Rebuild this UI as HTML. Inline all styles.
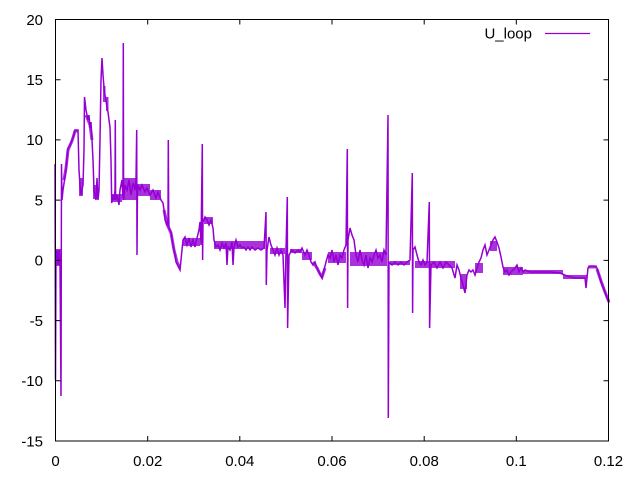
<!DOCTYPE html>
<html>
<head>
<meta charset="utf-8">
<style>
html,body{margin:0;padding:0;background:#fff;}
svg{display:block;}
text{font-family:"Liberation Sans",sans-serif;font-size:15px;fill:#000;}
</style>
</head>
<body>
<svg width="640" height="480" viewBox="0 0 640 480" xmlns="http://www.w3.org/2000/svg">
<rect x="0" y="0" width="640" height="480" fill="#fff"/>
<!-- dense noisy blocks -->
<g fill="#9400d3" opacity="0.8">
<rect x="55.5" y="249" width="6.5" height="17"/>
<rect x="79" y="178" width="4" height="18"/>
<rect x="93" y="185" width="5" height="14"/>
<rect x="103" y="86" width="2.5" height="16"/>
<rect x="106" y="97" width="2.5" height="14"/>
<rect x="112" y="194" width="10" height="8"/>
<rect x="124" y="178" width="13" height="22"/>
<rect x="137" y="184" width="13" height="12"/>
<rect x="150" y="190" width="11" height="10"/>
<rect x="183" y="238" width="17" height="8"/>
<rect x="204" y="217" width="9" height="7"/>
<rect x="214" y="241" width="51" height="8"/>
<rect x="270" y="248" width="15" height="6"/>
<rect x="290" y="249" width="12" height="4"/>
<rect x="302" y="252" width="10" height="8"/>
<rect x="328" y="252" width="18" height="11"/>
<rect x="350" y="252" width="37" height="14"/>
<rect x="390" y="261" width="20" height="4"/>
<rect x="415" y="261" width="40" height="7"/>
<rect x="460" y="274" width="7" height="15"/>
<rect x="475" y="263" width="8" height="10"/>
<rect x="490" y="241" width="7" height="10"/>
<rect x="503" y="267" width="20" height="8"/>
<rect x="523" y="270" width="40" height="4"/>
<rect x="563" y="275" width="24" height="4"/>
<rect x="588" y="265.5" width="9" height="3"/>
</g>
<!-- noisy bands as thicker strokes along trends -->
<g fill="none" stroke="#9400d3" stroke-width="3" opacity="0.8">
<polyline points="64,180 66,168 68,150 72,141 75,131 78,131"/>
<polyline points="86,115 88,120 90,125 92,140"/>
<polyline points="164,210 167,224 171,233 174,250 177,262 180,268"/>
<polyline points="313,262 317,268 320,274 322,277 325,268"/>
<polyline points="597,269 601,281 605,292 609,302"/>
</g>
<!-- data line -->
<polyline fill="none" stroke="#9400d3" stroke-width="1.5" stroke-linejoin="miter" points="
55,164 55.5,380 56,255 57,250 58,265 59,250 60,262 61,396 61.5,164 62,200 63,190 65,177 66,170 68,148 70,145 72,140 74,135 75,130 78,130 79,170 80,185 81,195 83,185 84,150 84.5,97 86,110 88,120 89,115 90,128 91,122 92,140 93,160 94,190 96,200 97,178 98,200 99,190 100,140 101,80 102,58 103,75 104,87 105,95 106,100 107,108 108,112 109,120 110,127 111,160 111.7,203 113,195 114,200 115,190 115.3,120 115.6,200 117,195 119,205 120,190 122,180 123,200 123.3,43 123.6,200 125,185 127,190 129,180 131,195 133,183 135,190 136,180 136.7,130 137,255 137.5,185 140,190 142,185 145,192 147,188 150,195 153,190 156,198 158,192 161,200 163,203 164,210 165,220 167,225 168,220 168.3,140 168.7,215 169,228 171,232 173,245 175,255 176,262 178,266 180,270 181,260 183,240 185,237 187,245 189,238 191,247 193,240 195,247 197,238 199,230 200,222 201,245 202.3,144 202.6,260 203,222 205,217 207,220 209,225 211,220 213,228 214,240 216,247 218,245 220,250 222,243 224,248 226,243 227,265 228,247 230,250 232,242 233,265 234,248 236,240 238,247 240,245 242,248 244,247 246,250 248,247 250,250 252,247 255,250 258,248 261,250 264,248 266,212 266.3,285 267,250 269,237 271,245 273,250 275,255 277,248 279,255 281,250 283,255 285,308 286,250 287.3,197 287.6,328 289,255 292,250 295,253 298,250 300,252 302,248 305,255 307,250 309,255 311,262 313,265 315,262 317,268 319,272 322,278 324,270 326,262 328,255 330,258 332,250 334,262 336,255 338,265 340,255 342,258 344,250 346,245 347.3,149 347.6,308 348,240 350,228 352,235 354,240 356,255 358,262 360,250 362,260 364,265 366,255 368,268 370,258 372,262 374,255 376,250 378,258 380,255 382,262 384,250 386,255 388,115 388.3,418 389,262 392,265 395,262 398,265 401,262 404,265 407,262 410,260 412.3,173 412.6,313 413,250 415,247 417,255 419,262 421,265 423,260 425,265 427,262 429.3,202 429.6,328 431,265 434,262 437,268 440,262 443,268 446,262 449,265 452,268 455,278 457,265 459,270 461,278 463,285 465,293 467,275 469,270 471,272 473,270 475,275 477,268 479,262 481,258 483,250 485,245 487,255 489,250 491,245 493,240 495,237 497,242 499,248 501,257 503,267 505,272 507,270 509,275 511,272 513,270 515,268 517,265 519,272 521,268 523,272 525,270 530,272 540,272 550,272 560,273 567,276 575,278 585,278 586,288 588,268 590,266 595,266 597,268 599,275 601,282 603,287 605,292 607,298 609,303"/>
<!-- border -->
<rect x="55.5" y="19.5" width="553" height="421.5" fill="none" stroke="#000" stroke-width="1"/>
<!-- ticks -->
<g stroke="#000" stroke-width="1">
<path d="M147.7,441v-5M239.8,441v-5M332,441v-5M424.2,441v-5M516.3,441v-5"/>
<path d="M147.7,19.5v5M239.8,19.5v5M332,19.5v5M424.2,19.5v5M516.3,19.5v5"/>
<path d="M55.5,79.7h5M55.5,139.9h5M55.5,200.1h5M55.5,260.4h5M55.5,320.6h5M55.5,380.8h5"/>
<path d="M608.5,79.7h-5M608.5,139.9h-5M608.5,200.1h-5M608.5,260.4h-5M608.5,320.6h-5M608.5,380.8h-5"/>
</g>
<!-- y labels -->
<g text-anchor="end">
<text x="43" y="24.8">20</text>
<text x="43" y="85">15</text>
<text x="43" y="145.2">10</text>
<text x="43" y="205.4">5</text>
<text x="43" y="265.7">0</text>
<text x="43" y="325.9">-5</text>
<text x="43" y="386.1">-10</text>
<text x="43" y="446.3">-15</text>
</g>
<!-- x labels -->
<g text-anchor="middle">
<text x="55.5" y="466">0</text>
<text x="147.7" y="466">0.02</text>
<text x="239.8" y="466">0.04</text>
<text x="332" y="466">0.06</text>
<text x="424.2" y="466">0.08</text>
<text x="516.3" y="466">0.1</text>
<text x="608.5" y="466">0.12</text>
</g>
<!-- legend -->
<text x="532" y="38.5" text-anchor="end">U_loop</text>
<line x1="545" y1="33.5" x2="590" y2="33.5" stroke="#9400d3" stroke-width="1.3"/>
</svg>
</body>
</html>
